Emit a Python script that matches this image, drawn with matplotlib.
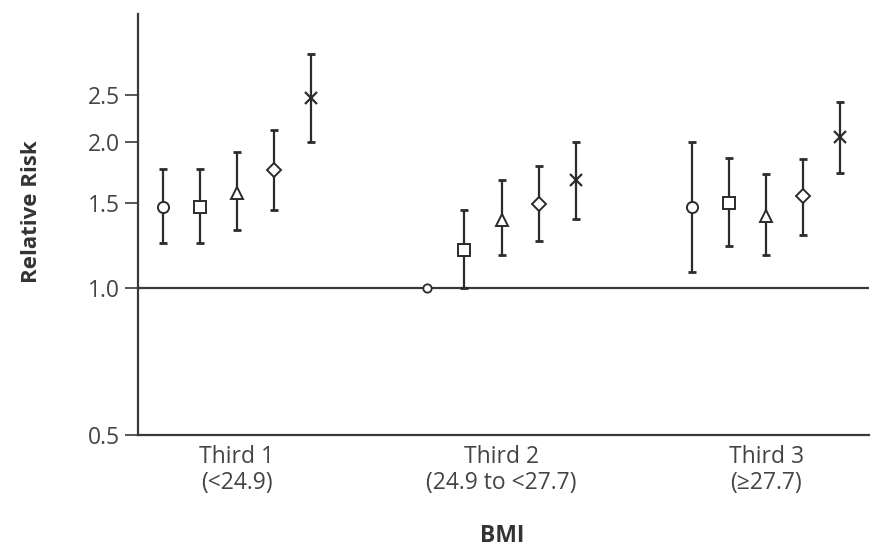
import numpy as np
import matplotlib
matplotlib.use("Agg")
import matplotlib.pyplot as plt

plt.rcParams['font.family'] = ['Open Sans', 'DejaVu Sans']

groups = ["Third 1\n(<24.9)", "Third 2\n(24.9 to <27.7)", "Third 3\n(\u226527.7)"]
markers = ["o", "s", "^", "D", "x"]

# relative risk and 95% CI per group, one entry per marker
rr = [
    [1.47, 1.47, 1.57, 1.75, 2.46],
    [1.00, 1.20, 1.38, 1.49, 1.67],
    [1.47, 1.50, 1.41, 1.55, 2.05],
]
lo = [
    [1.24, 1.24, 1.32, 1.45, 2.00],
    [1.00, 1.00, 1.17, 1.25, 1.39],
    [1.08, 1.22, 1.17, 1.29, 1.73],
]
hi = [
    [1.76, 1.76, 1.91, 2.12, 3.03],
    [1.00, 1.45, 1.67, 1.78, 2.00],
    [2.00, 1.85, 1.72, 1.84, 2.42],
]

yticks = [0.5, 1.0, 1.5, 2.0, 2.5]
offset = 0.14
ink = "#2b2b2b"
sizes = {"o": 8, "s": 8, "^": 9, "D": 7.5}

fig = plt.figure(figsize=(8.79, 5.5), dpi=100)
ax = fig.add_axes([0.157, 0.209, 0.8316, 0.7655])
ax.set_yscale("log")

for g in range(len(groups)):
    for k, m in enumerate(markers):
        x = g + (k - 2) * offset
        y = rr[g][k]
        if lo[g][k] == hi[g][k]:
            # reference category, no interval
            ax.plot(x, y, marker="o", ms=6, mfc="white", mec=ink, mew=1.3, zorder=4)
            continue
        err = [[y - lo[g][k]], [hi[g][k] - y]]
        ax.errorbar(x, y, yerr=err, fmt="none", ecolor=ink, elinewidth=1.6,
                    capsize=2.8, capthick=2.0, zorder=2)
        if m == "x":
            ax.plot(x, y, marker="x", ms=9, mec=ink, mew=1.6, zorder=4)
        else:
            ax.plot(x, y, marker=m, ms=sizes[m], mfc="white", mec=ink, mew=1.4, zorder=4)

ax.axhline(1.0, color="#3a3a3a", lw=1.6, zorder=1)

ax.set_xlim(-0.374, 2.389)
ax.set_ylim(0.5, 3.66)
ax.set_yticks(yticks)
ax.set_yticklabels([f"{t:.1f}" for t in yticks])
ax.yaxis.set_minor_locator(matplotlib.ticker.NullLocator())
ax.set_xticks(range(len(groups)))
ax.set_xticklabels(groups, linespacing=1.1)

for side in ["top", "right"]:
    ax.spines[side].set_visible(False)
for side in ["left", "bottom"]:
    ax.spines[side].set_color("#3a3a3a")
    ax.spines[side].set_linewidth(1.6)

ax.tick_params(axis="y", length=9.5, width=1.2, color="#3a3a3a", labelsize=16.5,
               labelcolor="#444444", pad=3.5)
ax.tick_params(axis="x", length=0, labelsize=16.5, labelcolor="#444444", pad=7)

fig.text(0.036, 0.615, "Relative Risk", rotation=90, ha="center", va="center",
         fontsize=16, fontweight="bold", color="#333333")
fig.text(0.571, 0.025, "BMI", ha="center", va="center",
         fontsize=16.5, fontweight="bold", color="#333333")

plt.savefig("out.png", dpi=100)
